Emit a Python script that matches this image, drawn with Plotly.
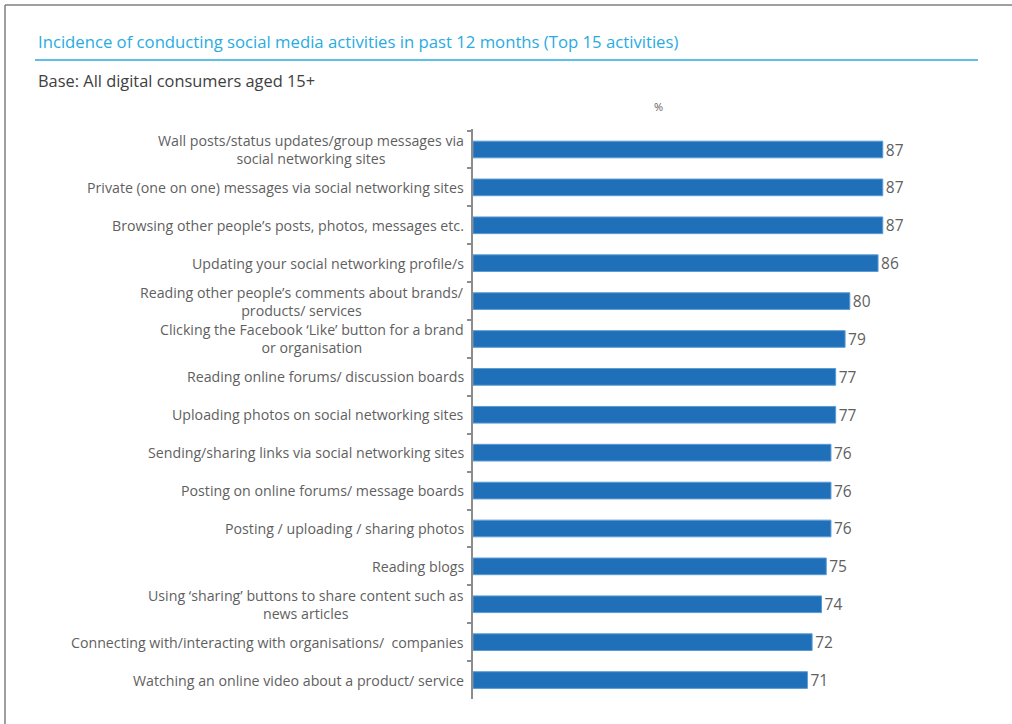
import plotly.graph_objects as go

categories = [
    "Wall posts/status updates/group messages via<br>social networking sites",
    "Private (one on one) messages via social networking sites",
    "Browsing other people\u2019s posts, photos, messages etc.",
    "Updating your social networking profile/s",
    "Reading other people\u2019s comments about brands/<br>products/ services",
    "Clicking the Facebook \u2018Like\u2019 button for a brand<br>or organisation",
    "Reading online forums/ discussion boards",
    "Uploading photos on social networking sites",
    "Sending/sharing links via social networking sites",
    "Posting on online forums/ message boards",
    "Posting / uploading / sharing photos",
    "Reading blogs",
    "Using \u2018sharing\u2019 buttons to share content such as<br>news articles",
    "Connecting with/interacting with organisations/  companies",
    "Watching an online video about a product/ service",
]
values = [87, 87, 87, 86, 80, 79, 77, 77, 76, 76, 76, 75, 74, 72, 71]

title_text = "Incidence of conducting social media activities in past 12 months (Top 15 activities)"
subtitle_text = "Base: All digital consumers aged 15+"
unit_text = "%"

W, H = 1012, 724
ML, MR, MT, MB = 473, 68, 129, 25
PW = W - ML - MR
PH = H - MT - MB

def px(x):
    return (x - ML) / PW

def py(y):
    return (H - MB - y) / PH

FONT = "Open Sans"
GRAY = "#5f5f5f"
CYAN = "#29ABE2"
BLUE = "#1F70B8"

fig = go.Figure()
fig.add_trace(go.Bar(
    x=values, y=categories, orientation="h",
    marker=dict(color=BLUE, line=dict(color="#5B9BD5", width=1)),
    text=[str(v) for v in values], textposition="outside",
    textfont=dict(family=FONT, size=15.5, color=GRAY),
    constraintext="none",
    cliponaxis=False, hoverinfo="skip",
))

annotations = []
for c in categories:
    annotations.append(dict(
        x=0, y=c, xref="x", yref="y", text=c, showarrow=False,
        xanchor="right", yanchor="middle", align="center", xshift=-7,
        font=dict(family=FONT, size=14.2, color=GRAY),
    ))
annotations += [
    dict(x=px(36), y=py(42), xref="paper", yref="paper", text=title_text,
         showarrow=False, xanchor="left", yanchor="middle",
         font=dict(family=FONT, size=16.7, color=CYAN)),
    dict(x=px(36), y=py(81), xref="paper", yref="paper", text=subtitle_text,
         showarrow=False, xanchor="left", yanchor="middle",
         font=dict(family=FONT, size=16.4, color="#404040")),
    dict(x=px(658), y=py(106), xref="paper", yref="paper", text=unit_text,
         showarrow=False, xanchor="center", yanchor="middle",
         font=dict(family=FONT, size=11, color=GRAY)),
]

shapes = [
    dict(type="line", xref="paper", yref="paper", x0=px(35), x1=px(978),
         y0=py(60), y1=py(60), line=dict(color=CYAN, width=1.5)),
    dict(type="line", xref="paper", yref="paper", x0=px(5), x1=px(5),
         y0=py(5), y1=py(724), line=dict(color="#7f7f7f", width=1.5)),
    dict(type="line", xref="paper", yref="paper", x0=px(5), x1=px(1012),
         y0=py(5), y1=py(5), line=dict(color="#7f7f7f", width=1.5)),
]

fig.update_layout(
    width=W, height=H,
    margin=dict(l=ML, r=MR, t=MT, b=MB),
    paper_bgcolor="white", plot_bgcolor="white",
    showlegend=False, bargap=0.56,
    annotations=annotations, shapes=shapes,
    xaxis=dict(range=[0, 100], visible=False, fixedrange=True),
    yaxis=dict(autorange="reversed", showticklabels=False, showgrid=False,
               showline=True, linecolor="#8c8c8c", linewidth=1.5,
               ticks="outside", tickson="boundaries", ticklen=4,
               tickcolor="#8c8c8c", tickwidth=1.5, zeroline=False,
               fixedrange=True),
)

fig.write_html("out.html", config={"displayModeBar": False},
               post_script="document.body.style.margin='0';")
